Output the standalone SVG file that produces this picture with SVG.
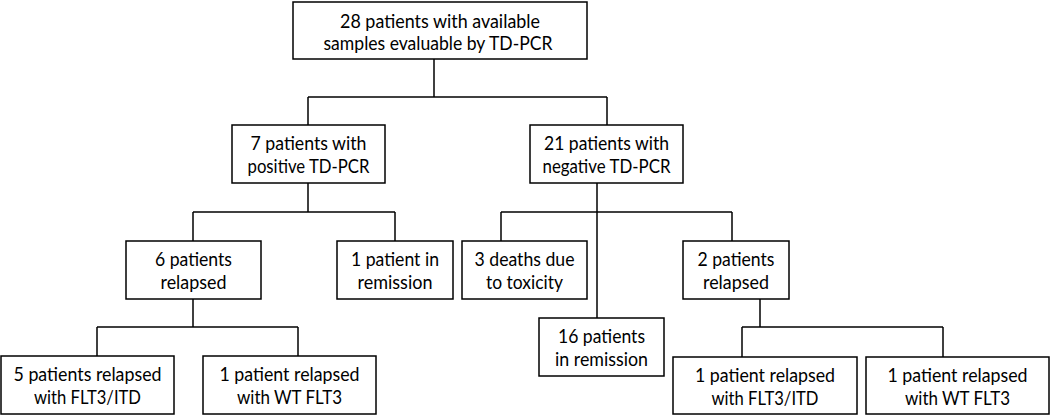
<svg xmlns="http://www.w3.org/2000/svg" width="1050" height="416" viewBox="0 0 1050 416">
<style>
  rect { fill: #ffffff; stroke: #000000; stroke-width: 1.5; }
  text { font-family: "Lato", "Open Sans", sans-serif; font-size: 18.5px; fill: #000000; text-anchor: middle; }
  #connectors line { stroke: #000000; stroke-width: 1.5; }
</style>
<rect x="0" y="0" width="1050" height="416" style="stroke:none" fill="#ffffff"/>
<g id="connectors">
  <line x1="434" y1="59" x2="434" y2="97"/>
  <line x1="308" y1="97" x2="607" y2="97"/>
  <line x1="308" y1="97" x2="308" y2="125"/>
  <line x1="607" y1="97" x2="607" y2="125"/>
  <line x1="308" y1="183" x2="308" y2="212"/>
  <line x1="193" y1="212" x2="395" y2="212"/>
  <line x1="193" y1="212" x2="193" y2="241"/>
  <line x1="395" y1="212" x2="395" y2="241"/>
  <line x1="597" y1="183" x2="597" y2="318"/>
  <line x1="501" y1="212" x2="732" y2="212"/>
  <line x1="501" y1="212" x2="501" y2="241"/>
  <line x1="732" y1="212" x2="732" y2="241"/>
  <line x1="193" y1="299" x2="193" y2="327"/>
  <line x1="97" y1="327" x2="298" y2="327"/>
  <line x1="97" y1="327" x2="97" y2="356"/>
  <line x1="298" y1="327" x2="298" y2="356"/>
  <line x1="760" y1="299" x2="760" y2="327"/>
  <line x1="742" y1="327" x2="943" y2="327"/>
  <line x1="742" y1="327" x2="742" y2="357"/>
  <line x1="943" y1="327" x2="943" y2="357"/>
</g>
<g id="n1"><rect x="293" y="2" width="294" height="57"/><text x="440" y="28" textLength="200" lengthAdjust="spacingAndGlyphs">28 patients with available</text><text x="438" y="50" textLength="229" lengthAdjust="spacingAndGlyphs">samples evaluable by TD-PCR</text></g>
<g id="n2"><rect x="232" y="125" width="153" height="58"/><text x="308.5" y="150" textLength="116" lengthAdjust="spacingAndGlyphs">7 patients with</text><text x="308.5" y="173" textLength="122" lengthAdjust="spacingAndGlyphs">positive TD-PCR</text></g>
<g id="n3"><rect x="530" y="125" width="153" height="58"/><text x="606.5" y="150" textLength="125" lengthAdjust="spacingAndGlyphs">21 patients with</text><text x="606.5" y="173" textLength="128" lengthAdjust="spacingAndGlyphs">negative TD-PCR</text></g>
<g id="n4"><rect x="126" y="241" width="135" height="58"/><text x="193.5" y="266" textLength="77" lengthAdjust="spacingAndGlyphs">6 patients</text><text x="193.5" y="289" textLength="66" lengthAdjust="spacingAndGlyphs">relapsed</text></g>
<g id="n5"><rect x="337" y="241" width="116" height="58"/><text x="395" y="266" textLength="88" lengthAdjust="spacingAndGlyphs">1 patient in</text><text x="395" y="289" textLength="75" lengthAdjust="spacingAndGlyphs">remission</text></g>
<g id="n6"><rect x="462" y="241" width="125" height="58"/><text x="524.5" y="266" textLength="100" lengthAdjust="spacingAndGlyphs">3 deaths due</text><text x="524.5" y="289" textLength="77" lengthAdjust="spacingAndGlyphs">to toxicity</text></g>
<g id="n7"><rect x="683" y="241" width="106" height="58"/><text x="736" y="266" textLength="77" lengthAdjust="spacingAndGlyphs">2 patients</text><text x="736" y="289" textLength="66" lengthAdjust="spacingAndGlyphs">relapsed</text></g>
<g id="n8"><rect x="539" y="318" width="125" height="58"/><text x="601.5" y="343" textLength="87" lengthAdjust="spacingAndGlyphs">16 patients</text><text x="601.5" y="366" textLength="93" lengthAdjust="spacingAndGlyphs">in remission</text></g>
<g id="n9"><rect x="1" y="356" width="173" height="58"/><text x="87.5" y="381" textLength="148" lengthAdjust="spacingAndGlyphs">5 patients relapsed</text><text x="87.5" y="404" textLength="107" lengthAdjust="spacingAndGlyphs">with FLT3/ITD</text></g>
<g id="n10"><rect x="203" y="356" width="173" height="58"/><text x="289.5" y="381" textLength="140" lengthAdjust="spacingAndGlyphs">1 patient relapsed</text><text x="289.5" y="404" textLength="105" lengthAdjust="spacingAndGlyphs">with WT FLT3</text></g>
<g id="n11"><rect x="673" y="357" width="184" height="57"/><text x="765" y="382" textLength="140" lengthAdjust="spacingAndGlyphs">1 patient relapsed</text><text x="765" y="405" textLength="107" lengthAdjust="spacingAndGlyphs">with FLT3/ITD</text></g>
<g id="n12"><rect x="866" y="357" width="183" height="57"/><text x="957.5" y="382" textLength="140" lengthAdjust="spacingAndGlyphs">1 patient relapsed</text><text x="957.5" y="405" textLength="105" lengthAdjust="spacingAndGlyphs">with WT FLT3</text></g>
</svg>
